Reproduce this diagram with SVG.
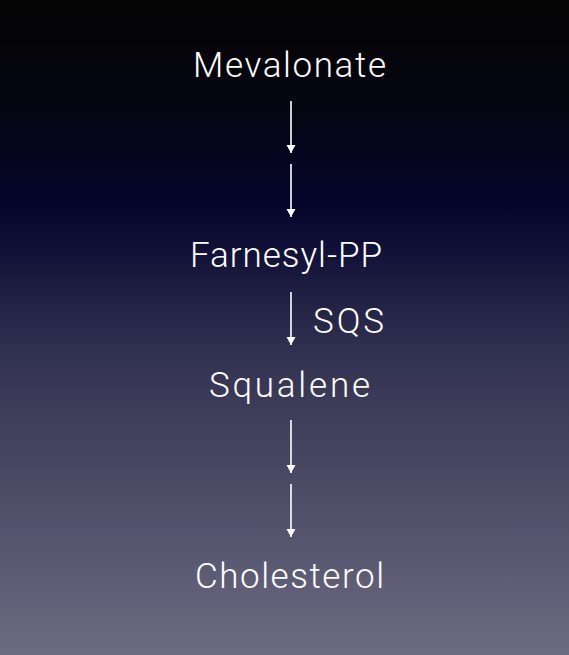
<svg xmlns="http://www.w3.org/2000/svg" width="569" height="655" viewBox="0 0 569 655">
<defs>
<linearGradient id="bg" x1="0" y1="0" x2="0" y2="1">
<stop offset="0" stop-color="#040404"/>
<stop offset="0.15" stop-color="#05050f"/>
<stop offset="0.32" stop-color="#05052e"/>
<stop offset="0.55" stop-color="#333352"/>
<stop offset="1" stop-color="#6c6b81"/>
</linearGradient>
<marker id="ah" markerWidth="10" markerHeight="10" refX="8" refY="4.5" orient="auto" markerUnits="userSpaceOnUse">
<path d="M0,0 L8,4.5 L0,9 Z" fill="#ffffff"/>
</marker>
<style>
.t{font-family:Roboto,"Liberation Sans",sans-serif;font-weight:300;font-size:35px;fill:#ffffff}
.c{stroke:#ffffff;stroke-width:1.6;fill:none;marker-end:url(#ah)}
</style>
</defs>
<rect x="0" y="0" width="569" height="655" fill="url(#bg)"/>
<g id="connectors">
<line class="c" x1="291" y1="101" x2="291" y2="153"/>
<line class="c" x1="291" y1="164" x2="291" y2="217"/>
<line class="c" x1="291" y1="292" x2="291" y2="345"/>
<line class="c" x1="291" y1="420" x2="291" y2="473"/>
<line class="c" x1="291" y1="484" x2="291" y2="537"/>
</g>
<g id="mevalonate"><text class="t" x="193" y="77" textLength="193" lengthAdjust="spacing">Mevalonate</text></g>
<g id="farnesyl-pp"><text class="t" x="190" y="267" textLength="192" lengthAdjust="spacing">Farnesyl-PP</text></g>
<g id="sqs"><text class="t" x="313" y="333" textLength="71" lengthAdjust="spacing">SQS</text></g>
<g id="squalene"><text class="t" x="209" y="397" textLength="161" lengthAdjust="spacing">Squalene</text></g>
<g id="cholesterol"><text class="t" x="195" y="588" textLength="189" lengthAdjust="spacing">Cholesterol</text></g>
</svg>
